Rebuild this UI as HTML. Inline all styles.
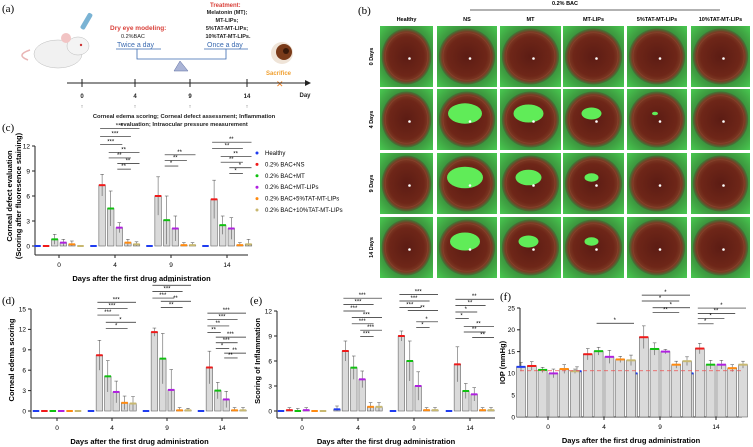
<!DOCTYPE html>
<html><head><meta charset="utf-8"><style>
html,body{margin:0;padding:0;background:#fff}
svg{display:block;font-family:"Liberation Sans",Arial,sans-serif}
.pl{font-family:"Liberation Serif",serif;font-size:11px}
</style></head><body>
<svg id="fig" width="753" height="447" viewBox="0 0 753 447" xmlns="http://www.w3.org/2000/svg">
<defs>
<radialGradient id="eyeG" cx="50%" cy="50%" r="50%">
<stop offset="0%" stop-color="#5c1c14"/><stop offset="70%" stop-color="#6e2618"/><stop offset="88%" stop-color="#7c3a24"/><stop offset="100%" stop-color="#3c7a38"/></radialGradient>
<radialGradient id="bgG" cx="50%" cy="50%" r="70%">
<stop offset="0%" stop-color="#2a4a22"/><stop offset="60%" stop-color="#3a8a3a"/><stop offset="100%" stop-color="#48c850"/></radialGradient>
</defs>
<g>
<text class="pl" x="2" y="12">(a)</text>
<g>
<path d="M28 60 Q15 55 30 50" stroke="#e9b5b5" fill="none" stroke-width="1.5"/>
<ellipse cx="58" cy="54" rx="24" ry="14" fill="#f1f1f1" stroke="#bbb" stroke-width="0.5"/>
<ellipse cx="78" cy="46" rx="11" ry="9" fill="#f4f4f4" stroke="#bbb" stroke-width="0.5"/>
<ellipse cx="66" cy="38" rx="5" ry="5" fill="#f2c4c4"/>
<circle cx="81" cy="45" r="1.2" fill="#c33"/>
<rect x="84" y="12" width="5" height="18" rx="2" fill="#7ab3d4" transform="rotate(30 86 21)"/>
</g>
<text x="110" y="30" font-size="6.5" font-weight="bold" fill="#d9413a">Dry eye modeling:</text>
<text x="121" y="38" font-size="5.5" fill="#222">0.2%BAC</text>
<text x="117" y="47" font-size="7" fill="#3a6ab0">Twice a day</text>
<text x="210" y="7" font-size="6" font-weight="bold" fill="#d9413a">Treatment:</text>
<g font-size="5.5" font-weight="bold" fill="#222" text-anchor="middle">
<text x="227" y="14">Melatonin (MT);</text><text x="227" y="22">MT-LIPs;</text><text x="227" y="30">5%TAT-MT-LIPs;</text><text x="228" y="38">10%TAT-MT-LIPs.</text></g>
<text x="207" y="47" font-size="7" fill="#3a6ab0">Once a day</text>
<path d="M116 49H161M137 49V59H226V49M204 49H248" stroke="#3a6ab0" stroke-width="0.8" fill="none"/>
<polygon points="174,71 180,61 188,71" fill="#aab4d6" stroke="#5a6aa0" stroke-width="0.5"/>
<g><circle cx="282" cy="53" r="11" fill="#efe4d8"/><circle cx="284" cy="52" r="8" fill="#7a3b1a"/><circle cx="286" cy="51" r="3" fill="#3a1a0a"/></g>
<text x="266" y="75" font-size="6" font-weight="bold" fill="#f0a030">Sacrifice</text>
<text x="276" y="87" font-size="9" fill="#f08020">✕</text>
<line x1="67" y1="83" x2="305" y2="83" stroke="#222" stroke-width="1"/>
<polygon points="305,80 311,83 305,86" fill="#222"/>
<g stroke="#222" stroke-width="1"><line x1="82" y1="79" x2="82" y2="87"/><line x1="135" y1="79" x2="135" y2="87"/><line x1="190" y1="79" x2="190" y2="87"/><line x1="247" y1="79" x2="247" y2="87"/></g>
<g font-size="6" font-weight="bold" fill="#222" text-anchor="middle"><text x="82" y="98">0</text><text x="135" y="98">4</text><text x="190" y="98">9</text><text x="247" y="98">14</text><text x="305" y="97">Day</text></g>
<g font-size="5" fill="#222" text-anchor="middle"><text x="82" y="108">↑</text><text x="135" y="108">↑</text><text x="190" y="108">↑</text><text x="247" y="108">↑</text></g>
<text x="184" y="118" font-size="5.8" font-weight="bold" fill="#222" text-anchor="middle">Corneal edema scoring; Corneal defect assessment; Inflammation</text>
<text x="184" y="126" font-size="5.8" font-weight="bold" fill="#222" text-anchor="middle">evaluation; Intraocular pressure measurement</text>
</g>
<g>
<text class="pl" x="358" y="14">(b)</text>
<text x="565" y="5" font-size="5.5" font-weight="bold" text-anchor="middle">0.2% BAC</text>
<line x1="470" y1="10" x2="720" y2="10" stroke="#333" stroke-width="0.7"/>
<g id="photos"></g>
</g>
<g id="charts"></g>
</svg>
<script>
const NS='http://www.w3.org/2000/svg';
const svg=document.getElementById('fig');
function mk(tag,attrs,parent,txt){const e=document.createElementNS(NS,tag);for(const k in attrs)e.setAttribute(k,attrs[k]);if(txt!==undefined)e.textContent=txt;(parent||svg).appendChild(e);return e;}

const photoCols=['Healthy','NS','MT','MT-LIPs','5%TAT-MT-LIPs','10%TAT-MT-LIPs'];
const photoRows=['0 Days','4 Days','9 Days','14 Days'];
const colX=[380,437,500,563,627,691], colW=[53,60,61,61,60,59];
const rowY=[26,89,153,217], rowH=61;
const defect=[[0,0,0,0,0,0],[0,17,15,10,3,0],[0,18,13,7,0,0],[0,15,10,7,0,0]];
const pg=document.getElementById('photos');
photoCols.forEach((c,i)=>{const t=mk('text',{x:colX[i]+colW[i]/2,y:21,'font-size':5.5,'font-weight':'bold','text-anchor':'middle'},pg,c);

});
photoRows.forEach((r,j)=>{const cy=rowY[j]+rowH/2;const t=mk('text',{x:373,y:cy,'font-size':5.5,'font-weight':'bold','text-anchor':'middle',transform:`rotate(-90 373 ${cy})`},pg,r);


photoCols.forEach((c,i)=>{const x=colX[i],w=colW[i],y=rowY[j];
const g=mk('g',{},pg);


mk('rect',{x,y,width:w,height:rowH,fill:'url(#bgG)'},g);
mk('ellipse',{cx:x+w/2,cy:y+rowH/2,rx:w*0.47,ry:rowH*0.46,fill:'url(#eyeG)'},g);
mk('ellipse',{cx:x+w/2,cy:y+rowH/2,rx:w*0.40,ry:rowH*0.39,fill:'none',stroke:'#8a4a30','stroke-width':0.8,opacity:0.6},g);
const d=defect[j][i];if(d>0)mk('ellipse',{cx:x+w/2-2,cy:y+rowH/2-6,rx:d,ry:d*0.6,fill:'#60ec58'},g);
mk('circle',{cx:x+w/2+3,cy:y+rowH/2+2,r:1.3,fill:'#fff'},g);});});

const groups=['0','4','9','14'];
const seriesNames=['Healthy','0.2% BAC+NS','0.2% BAC+MT','0.2% BAC+MT-LIPs','0.2% BAC+5%TAT-MT-LIPs','0.2% BAC+10%TAT-MT-LIPs'];
const colors=['#1f3cf0','#f01a1a','#10c010','#b020e0','#ff8a10','#c8b870'];
const cMeans=[[0,0,0,0],[0,7.3,6,5.6],[0.8,4.5,3.1,2.5],[0.4,2.2,2.1,2.1],[0.2,0.4,0.1,0.1],[0,0.2,0.1,0.2]];
const cErr=[[0,0,0,0],[0,1.3,2.3,2.3],[0.6,2.1,2.9,1.1],[0.4,0.6,1.5,1.3],[0.4,0.4,0.3,0.3],[0,0.3,0.3,0.6]];
const cTicks=[0,3,6,9,12];
const dMeans=[[0,0,0,0],[0,8.2,11.6,6.4],[0,5.1,7.7,3.0],[0,2.8,3.1,1.7],[0,1.2,0.1,0.1],[0,1.1,0.1,0.1]];
const dErr=[[0,0,0,0],[0,2.2,0.6,2.4],[0,2.3,3.7,1.2],[0,1.6,3.0,1.2],[0,1.0,0.4,0.4],[0,1.0,0.3,0.4]];
const dTicks=[0,3,6,9,12,15];
const eMeans=[[0,0.2,0,0],[0.1,7.2,9.0,5.6],[0,5.2,6.0,2.4],[0.1,3.8,3.0,2.0],[0,0.5,0.1,0.1],[0,0.5,0.1,0.1]];
const eErr=[[0,0.4,0,0],[0.3,1.2,0.6,2.1],[0.3,1.4,2.4,0.9],[0.3,1.0,1.7,0.8],[0,0.5,0.3,0.3],[0,0.5,0.3,0.3]];
const eTicks=[0,3,6,9,12];
const fMeans=[[11.5,10.5,10,10],[11.7,14.4,18.3,15.7],[10.8,15.1,15.6,12],[10,13.8,15,12],[11,13.2,12,11.2],[10.5,13,12.8,12]];
const fErr=[[1,1,0.8,1],[1,1.3,2.6,1.2],[0.6,0.9,1.4,1],[1,1.5,0.5,1],[1,0.7,0.8,0.8],[0.5,1.2,1,0.8]];
const fTicks=[0,5,10,15,20,25];
const fRef=[10.6];
const cSig=[[1,1,3,3,'***'],[1,1,4,4,'***'],[1,1,5,5,'***'],[1,2,5,2,'**'],[1,2,4,1.3,'**'],[1,3,5,0.6,'**'],[1,3,4,-0.1,'**'],[2,2,5,2,'**'],[2,2,4,1.3,'**'],[2,2,3,0.6,'*'],[3,1,5,4,'**'],[3,1,4,3.2,'**'],[3,2,5,2.2,'**'],[3,2,4,1.5,'**'],[3,3,5,0.8,'*'],[3,3,4,0.1,'*']];
const dSig=[[1,1,5,4,'***'],[1,1,4,3.2,'***'],[1,1,3,2.4,'***'],[1,2,5,1.5,'*'],[1,2,4,0.7,'*'],[2,1,5,4.6,'***'],[2,1,4,3.8,'***'],[2,1,3,3.0,'***'],[2,2,5,2.6,'**'],[2,2,4,1.8,'**'],[3,1,5,4,'***'],[3,1,4,3.2,'***'],[3,1,3,2.4,'**'],[3,1,2,1.6,'**'],[3,2,5,1,'***'],[3,2,4,0.3,'***'],[3,2,3,-0.4,'*'],[3,3,5,-1,'**'],[3,3,4,-1.6,'**']];
const eSig=[[1,1,5,4.6,'***'],[1,1,4,3.8,'***'],[1,1,3,3,'***'],[1,2,5,2.2,'***'],[1,2,4,1.4,'***'],[1,3,5,0.6,'***'],[1,3,4,-0.2,'***'],[2,1,5,3.8,'***'],[2,1,4,3,'***'],[2,1,3,2.2,'***'],[2,2,5,1.8,'**'],[2,3,5,0.4,'*'],[2,3,4,-0.3,'*'],[3,1,5,5.2,'**'],[3,1,4,4.4,'**'],[3,1,3,3.6,'*'],[3,1,2,2.8,'*'],[3,2,5,1.8,'**'],[3,2,4,1.1,'**'],[3,3,5,0.4,'**']];
const fSig=[[1,2,5,4,'*'],[2,1,5,5.5,'*'],[2,1,4,4.2,'*'],[2,2,5,2.7,'*'],[2,2,4,1.6,'**'],[3,1,5,6.5,'*'],[3,1,4,5.3,'**'],[3,1,3,4.2,'*'],[3,1,2,3,'*']];

function chart(o){
  const g=mk('g',{},document.getElementById('charts'));
  
  
  const tmin=o.ticks[0],tmax=o.ticks[o.ticks.length-1];
  const y=v=>o.y0-(v-tmin)/(tmax-tmin)*(o.y0-o.yTop);
  const gx=i=>o.g0+i*o.gStep;
  const bx=(i,j)=>gx(i)+(j-2.5)*o.bStep;
  const lbl=mk('text',{x:o.plx,y:o.ply,class:'pl'},g,o.plabel);
  
  
  mk('line',{x1:o.ax,y1:o.yTop,x2:o.ax,y2:o.base,stroke:'#222','stroke-width':1},g);
  mk('line',{x1:o.ax,y1:o.base,x2:o.axEnd,y2:o.base,stroke:'#222','stroke-width':1},g);
  o.ticks.forEach(t=>{mk('line',{x1:o.ax-3,y1:y(t),x2:o.ax,y2:y(t),stroke:'#222'},g);
    const tl=mk('text',{x:o.ax-5,y:y(t)+2.3,'font-size':6.5,'text-anchor':'end'},g,t);
    
    });
  groups.forEach((gn,i)=>{mk('line',{x1:gx(i),y1:o.base,x2:gx(i),y2:o.base+3,stroke:'#222'},g);
    const tl=mk('text',{x:gx(i),y:o.base+12,'font-size':6.5,'text-anchor':'middle'},g,gn);
    
    });
  const xt=mk('text',{x:(o.ax+o.axEnd)/2,y:o.base+26,'font-size':7.5,'font-weight':'bold','text-anchor':'middle'},g,'Days after the first drug administration');
  
  
  o.ytitle.forEach((s,k)=>{const tx=o.ytx+k*9,ty=(o.yTop+o.y0)/2;
    const yt=mk('text',{x:tx,y:ty,'font-size':7.5,'font-weight':'bold','text-anchor':'middle',transform:`rotate(-90 ${tx} ${ty})`},g,s);
    
    });
  o.means.forEach((ser,j)=>ser.forEach((v,i)=>{const x=bx(i,j),w=o.bW;
    if(v>0){const r=mk('rect',{x:x-w/2,y:y(v),width:w,height:o.y0-y(v),fill:'#dadada',stroke:'#666','stroke-width':0.6},g);
      
      }
    const e=o.err[j][i];
    if(e>0){mk('line',{x1:x,y1:y(v-e<tmin?tmin:v-e),x2:x,y2:y(v+e),stroke:'#444','stroke-width':0.5},g);
      mk('line',{x1:x-1.8,y1:y(v+e),x2:x+1.8,y2:y(v+e),stroke:'#444','stroke-width':0.5},g);}
    const m=mk('rect',{x:x-w/2,y:y(v)-1,width:w,height:2,fill:colors[j]},g);
    
    }));
  if(o.ref){mk('line',{x1:o.ax,y1:y(o.ref[0]),x2:o.axEnd,y2:y(o.ref[0]),stroke:'#f05050','stroke-width':0.8,'stroke-dasharray':'4 3'},g);}
  o.sig.forEach(s=>{const [gi,a,b,lv,lab]=s;
    const top=Math.max(...o.means.map((ser,j)=>ser[gi]+o.err[j][gi]));
    const yy=y(top)-6-lv*o.sigStep;
    mk('line',{x1:bx(gi,a)-2,y1:yy,x2:bx(gi,b)+3,y2:yy,stroke:'#222','stroke-width':0.7},g);
    mk('text',{x:(bx(gi,a)+bx(gi,b))/2,y:yy-1,'font-size':6,'text-anchor':'middle'},g,lab);});
  if(o.legend){seriesNames.forEach((n,j)=>{const ly=155+j*11.4;
    const lg=mk('g',{},g);
    
    
    mk('circle',{cx:257,cy:ly-2,r:1.5,fill:colors[j]},lg);
    mk('text',{x:265,y:ly,'font-size':6},lg,n);});}
}
chart({name:'chart-c-corneal-defect',plabel:'(c)',plx:2,ply:131,means:cMeans,err:cErr,ticks:cTicks,sig:cSig,ax:35,axEnd:248,y0:246,yTop:146,base:255,g0:59,gStep:56,bStep:8.6,bW:6.5,ytx:12,ytitle:['Corneal defect evaluation','(Scoring after fluoresence staining)'],sigStep:8,legend:true});
chart({name:'chart-d-corneal-edema',plabel:'(d)',plx:2,ply:304,means:dMeans,err:dErr,ticks:dTicks,sig:dSig,ax:31,axEnd:248,y0:411,yTop:309,base:418,g0:57,gStep:55,bStep:8.4,bW:6.5,ytx:14,ytitle:['Corneal edema scoring'],sigStep:8});
chart({name:'chart-e-inflammation',plabel:'(e)',plx:250,ply:304,means:eMeans,err:eErr,ticks:eTicks,sig:eSig,ax:277,axEnd:495,y0:411,yTop:311,base:418,g0:302,gStep:56,bStep:8.4,bW:6.5,ytx:260,ytitle:['Scoring of Inflammation'],sigStep:8});
chart({name:'chart-f-iop',plabel:'(f)',plx:500,ply:300,means:fMeans,err:fErr,ticks:fTicks,sig:fSig,ref:fRef,ax:520,axEnd:742,y0:417,yTop:308,base:417,g0:548,gStep:56,bStep:10.8,bW:9,ytx:505,ytitle:['IOP (mmHg)'],sigStep:4.5});
</script>
</body></html>
